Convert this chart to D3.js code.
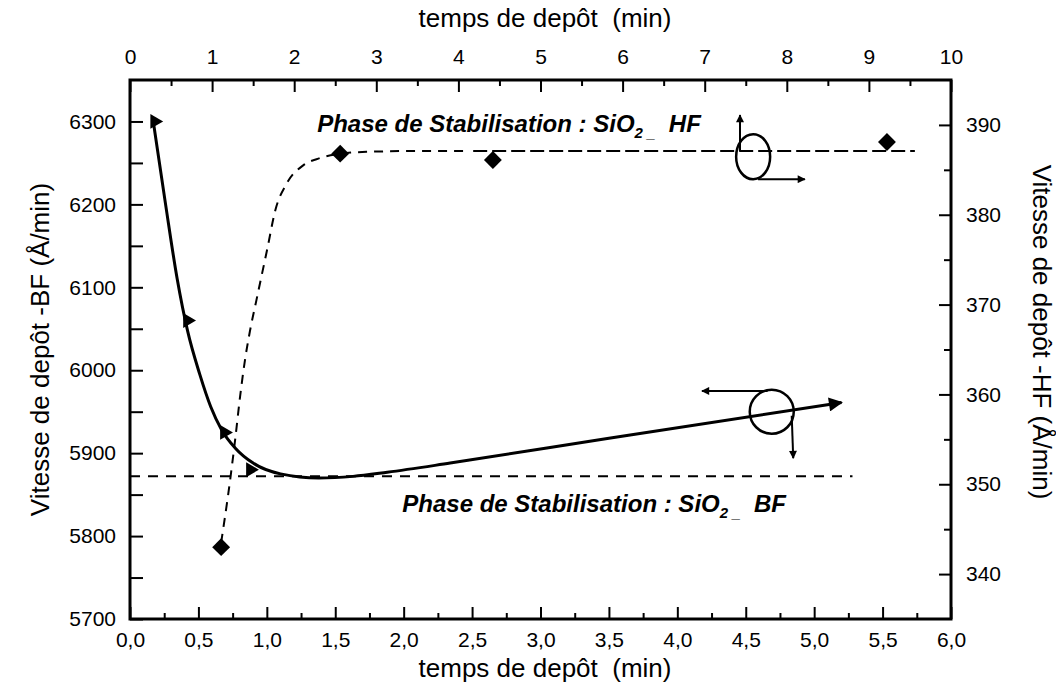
<!DOCTYPE html>
<html lang="en">
<head>
<meta charset="UTF-8">
<script src="https://d3js.org/d3.v7.min.js"></script>
<title>vitesse de depot</title>
<style>
body { margin: 0; background: #fff; }
text { font-family: "Liberation Sans", Arial, sans-serif; fill: #000; }
</style>
</head>
<body>
<script type="text/javascript">

// BF : temps 0-6 min (axe du bas), vitesse axe de gauche
var bfTime = [0.18, 0.42, 0.69, 0.88];
var bfRate = [6300, 6060, 5925, 5880];

// courbe BF tracee
var bfFitTime = [0.17, 0.26, 0.345, 0.42, 0.51, 0.59, 0.67, 0.77, 0.90, 1.10, 1.38, 1.63, 1.88, 2.34, 3.50, 5.20];
var bfFitRate = [6300, 6200, 6110, 6048, 5995, 5956, 5928, 5906, 5888, 5875, 5870, 5872, 5877, 5888, 5918, 5961];

// HF : temps 0-10 min (axe du haut), vitesse axe de droite
var hfTime = [1.11, 2.56, 4.42, 9.22];
var hfRate = [343.0, 386.8, 386.1, 388.1];

var hfFitTime = [1.11, 1.22, 1.28, 1.34, 1.40, 1.46, 1.54, 1.67, 1.77, 1.91, 2.11, 2.31, 2.56, 2.88, 3.50, 4.10];
var hfFitRate = [343.5, 350.5, 354.9, 359.7, 363.8, 367.0, 370.5, 376.1, 380.5, 383.5, 385.5, 386.3, 386.8, 387.0, 387.1, 387.1];

// phases de stabilisation
var bfStableTime = [0, 5.28];
var bfStableRate = 5872;
var hfStableTime = [4.18, 9.56];
var hfStableRate = 387.1;

// graduations
var bottomMajor = [0, 0.5, 1, 1.5, 2, 2.5, 3, 3.5, 4, 4.5, 5, 5.5, 6];
var bottomMinor = [0.25, 0.75, 1.25, 1.75, 2.25, 2.75, 3.25, 3.75, 4.25, 4.75, 5.25, 5.75];
var topMajor = [0, 1, 2, 3, 4, 5, 6, 7, 8, 9, 10];
var topMinor = [0.5, 1.5, 2.5, 3.5, 4.5, 5.5, 6.5, 7.5, 8.5, 9.5];
var leftMajor = [5700, 5800, 5900, 6000, 6100, 6200, 6300];
var leftMinor = [5750, 5850, 5950, 6050, 6150, 6250];
var rightMajor = [340, 350, 360, 370, 380, 390];
var rightMinor = [345, 355, 365, 375, 385];

// annotations (coordonnees des donnees)
var hfLabelAt = [2.28, 389.2];
var bfLabelAt = [1.99, 5829];
var hfLoopAt = [7.59, 386.46];
var hfArrowUp = [[7.43, 387.1], [7.43, 391.1]];
var hfArrowRight = [[7.65, 383.96], [8.22, 383.96]];
var bfLoopAt = [4.69, 5950];
var bfArrowLeft = [[4.66, 5975], [4.18, 5975]];
var bfArrowDown = [[4.836, 5945], [4.847, 5894]];

var width = 1056, height = 692;
var pLeft = 130, pRight = 951, pTop = 80, pBottom = 619;

var svg = d3.select("body").append("svg").attr("width", width).attr("height", height);

var defs = svg.append("defs");
defs.append("marker").attr("id", "head")
    .attr("viewBox", "0 0 10 10").attr("refX", 9).attr("refY", 5)
    .attr("markerUnits", "userSpaceOnUse").attr("markerWidth", 16).attr("markerHeight", 14)
    .attr("orient", "auto")
    .append("path").attr("d", "M0,0 L10,5 L0,10 z").attr("fill", "#000");
defs.append("marker").attr("id", "small")
    .attr("viewBox", "0 0 10 10").attr("refX", 9).attr("refY", 5)
    .attr("markerUnits", "userSpaceOnUse").attr("markerWidth", 10).attr("markerHeight", 8)
    .attr("orient", "auto")
    .append("path").attr("d", "M0,0 L10,5 L0,10 z").attr("fill", "#000");

var xb = d3.scaleLinear().domain([0, 6]).range([pLeft, pRight]);
var xt = d3.scaleLinear().domain([0, 10]).range([pLeft, pRight]);
var yl = d3.scaleLinear().domain([5700, 6350]).range([pBottom, pTop]);
var yr = d3.scaleLinear().domain([335, 395]).range([pBottom, pTop]);

var comma = function(d) { return d3.format(".1f")(d).replace(".", ","); };

function axis(gen, tx, ty) {
    var g = svg.append("g").attr("transform", "translate(" + tx + "," + ty + ")").call(gen);
    g.attr("font-family", null).attr("font-size", 21);
    g.select(".domain").remove();
    g.selectAll(".tick line").attr("stroke", "#000").attr("stroke-width", 2);
    g.selectAll(".tick text").attr("fill", "#000");
    return g;
}

axis(d3.axisBottom(xb).tickValues(bottomMajor).tickSize(-12).tickPadding(13).tickFormat(comma), 0, pBottom);
axis(d3.axisBottom(xb).tickValues(bottomMinor).tickSize(-6).tickFormat(""), 0, pBottom);
axis(d3.axisTop(xt).tickValues(topMajor).tickSize(-12).tickPadding(16).tickFormat(d3.format("d")), 0, pTop);
axis(d3.axisTop(xt).tickValues(topMinor).tickSize(-6).tickFormat(""), 0, pTop);
axis(d3.axisLeft(yl).tickValues(leftMajor).tickSize(-13).tickPadding(14).tickFormat(d3.format("d")), pLeft, 0);
axis(d3.axisLeft(yl).tickValues(leftMinor).tickSize(-13).tickFormat(""), pLeft, 0);
axis(d3.axisRight(yr).tickValues(rightMajor).tickSize(-12).tickPadding(15).tickFormat(d3.format("d")), pRight, 0);
axis(d3.axisRight(yr).tickValues(rightMinor).tickSize(-7).tickFormat(""), pRight, 0);

svg.append("rect").attr("x", pLeft).attr("y", pTop).attr("width", pRight - pLeft).attr("height", pBottom - pTop)
    .attr("fill", "none").attr("stroke", "#000").attr("stroke-width", 3);

// titres des axes
svg.append("text").attr("x", 545).attr("y", 27).attr("text-anchor", "middle")
    .attr("font-size", 26).style("white-space", "pre").text("temps de depôt  (min)");
svg.append("text").attr("x", 545).attr("y", 677).attr("text-anchor", "middle")
    .attr("font-size", 26).style("white-space", "pre").text("temps de depôt  (min)");
svg.append("text").attr("transform", "translate(49," + ((pTop + pBottom) / 2) + ") rotate(-90)")
    .attr("text-anchor", "middle").attr("font-size", 26).text("Vitesse de depôt -BF (Å/min)");
svg.append("text").attr("transform", "translate(1033," + 332 + ") rotate(90)")
    .attr("text-anchor", "middle").attr("font-size", 26).text("Vitesse de depôt -HF (Å/min)");

// phases de stabilisation
svg.append("line")
    .attr("x1", xb(bfStableTime[0])).attr("x2", xb(bfStableTime[1]))
    .attr("y1", yl(bfStableRate)).attr("y2", yl(bfStableRate))
    .attr("stroke", "#000").attr("stroke-width", 2).attr("stroke-dasharray", "10,8");
svg.append("line")
    .attr("x1", xt(hfStableTime[0])).attr("x2", xt(hfStableTime[1]))
    .attr("y1", yr(hfStableRate)).attr("y2", yr(hfStableRate))
    .attr("stroke", "#000").attr("stroke-width", 2).attr("stroke-dasharray", "14,5");

// courbe HF
var hfLine = d3.line()
    .x(function(d) { return xt(d[0]); })
    .y(function(d) { return yr(d[1]); })
    .curve(d3.curveMonotoneX);
svg.append("path").datum(d3.zip(hfFitTime, hfFitRate)).attr("d", hfLine)
    .attr("fill", "none").attr("stroke", "#000").attr("stroke-width", 2).attr("stroke-dasharray", "9,7");

// courbe BF
var bfLine = d3.line()
    .x(function(d) { return xb(d[0]); })
    .y(function(d) { return yl(d[1]); })
    .curve(d3.curveMonotoneX);
svg.append("path").datum(d3.zip(bfFitTime, bfFitRate)).attr("d", bfLine)
    .attr("fill", "none").attr("stroke", "#000").attr("stroke-width", 3).attr("marker-end", "url(#head)");

// points
svg.selectAll("path.bf").data(d3.zip(bfTime, bfRate)).enter().append("path").attr("class", "bf")
    .attr("d", d3.symbol().type(d3.symbolTriangle).size(95))
    .attr("transform", function(d) { return "translate(" + xb(d[0]) + "," + yl(d[1]) + ") rotate(90)"; })
    .attr("fill", "#000");
svg.selectAll("path.hf").data(d3.zip(hfTime, hfRate)).enter().append("path").attr("class", "hf")
    .attr("d", d3.symbol().type(d3.symbolSquare).size(160))
    .attr("transform", function(d) { return "translate(" + xt(d[0]) + "," + yr(d[1]) + ") rotate(45)"; })
    .attr("fill", "#000");

// textes
function phase(x, y, tail) {
    var t = svg.append("text").attr("x", x).attr("y", y)
        .attr("font-size", 24).attr("font-weight", "bold").attr("font-style", "italic")
        .style("white-space", "pre");
    t.append("tspan").text("Phase de Stabilisation : SiO");
    t.append("tspan").attr("font-size", 15).attr("dy", 6).text("2 _");
    t.append("tspan").attr("dy", -6).text("  " + tail);
}
phase(xt(hfLabelAt[0]), yr(hfLabelAt[1]), "HF");
phase(xb(bfLabelAt[0]), yl(bfLabelAt[1]), "BF");

// boucles et fleches
svg.append("ellipse").attr("cx", xt(hfLoopAt[0])).attr("cy", yr(hfLoopAt[1])).attr("rx", 17).attr("ry", 22.5)
    .attr("fill", "none").attr("stroke", "#000").attr("stroke-width", 2.5);
svg.append("circle").attr("cx", xb(bfLoopAt[0])).attr("cy", yl(bfLoopAt[1])).attr("r", 22)
    .attr("fill", "none").attr("stroke", "#000").attr("stroke-width", 2.5);

function arrow(pts, sx, sy) {
    svg.append("line")
        .attr("x1", sx(pts[0][0])).attr("y1", sy(pts[0][1]))
        .attr("x2", sx(pts[1][0])).attr("y2", sy(pts[1][1]))
        .attr("stroke", "#000").attr("stroke-width", 2).attr("marker-end", "url(#small)");
}
arrow(hfArrowUp, xt, yr);
arrow(hfArrowRight, xt, yr);
arrow(bfArrowLeft, xb, yl);
arrow(bfArrowDown, xb, yl);

</script>
</body>
</html>
